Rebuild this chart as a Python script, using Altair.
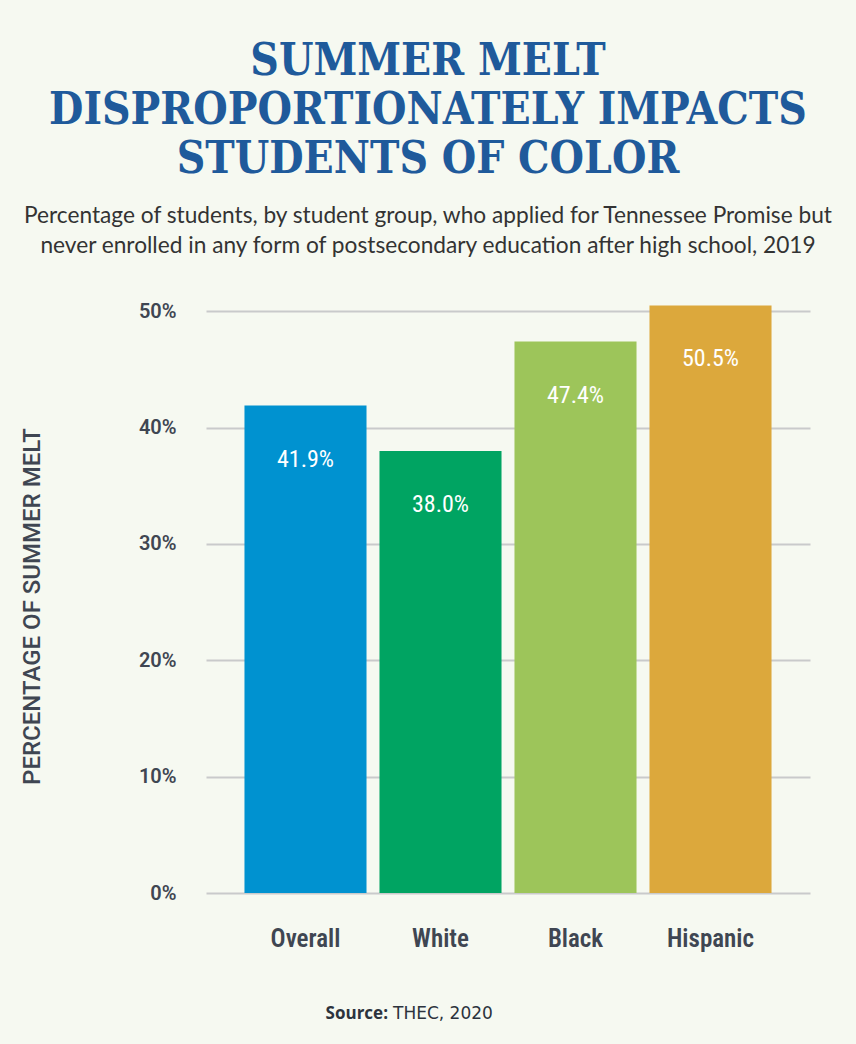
import altair as alt
import pandas as pd

groups = ["Overall", "White", "Black", "Hispanic"]
values = [41.9, 38.0, 47.4, 50.5]
labels = ["41.9%", "38.0%", "47.4%", "50.5%"]
colors = ["#0092d0", "#00a462", "#9dc55a", "#dca83c"]
y_ticks = [0, 10, 20, 30, 40, 50]

df = pd.DataFrame({"group": groups, "value": values, "label": labels})
src = pd.DataFrame({"a": ["Source:"], "b": ["THEC, 2020"]})

x_enc = alt.X("group:N", sort=groups, title=None,
              scale=alt.Scale(paddingInner=0.096, paddingOuter=0.285),
              axis=alt.Axis(labelAngle=0, ticks=False, domain=False, labelPadding=33,
                            labelFont="Roboto Condensed, Roboto", labelFontSize=25, labelFontWeight=600,
                            labelColor="#3f4652"))
y_enc = alt.Y("value:Q", title="PERCENTAGE OF SUMMER MELT",
              scale=alt.Scale(domain=[0, 52], nice=False),
              axis=alt.Axis(values=y_ticks, labelExpr="datum.value + '%'", ticks=False,
                            domain=False, gridColor="#c9cacb", gridWidth=2,
                            labelPadding=30, labelFont="Roboto", labelFontSize=20,
                            labelFontWeight=600, labelColor="#3f4652",
                            titleFont="Roboto", titleFontSize=24, titleFontWeight=500,
                            titleColor="#3f4652", titleX=-174, titleY=318,
                            titleAngle=270, titleBaseline="middle", titleAlign="center"))

bars = alt.Chart(df).mark_bar().encode(
    x=x_enc, y=y_enc,
    color=alt.Color("group:N", sort=groups,
                    scale=alt.Scale(domain=groups, range=colors), legend=None))

text = alt.Chart(df).mark_text(color="white", font="Roboto Condensed, Roboto", fontSize=24,
                               baseline="middle", dy=54).encode(
    x=alt.X("group:N", sort=groups), y="value:Q", text="label:N")

src_a = alt.Chart(src).mark_text(font="Open Sans", fontSize=17, fontWeight="bold",
                                 color="#2c333d", align="right", baseline="middle").encode(
    x=alt.value(182), y=alt.value(726), text="a:N")
src_b = alt.Chart(src).mark_text(font="DejaVu Sans", fontSize=17, color="#2c333d",
                                 align="left", baseline="middle").encode(
    x=alt.value(187), y=alt.value(726), text="b:N")

chart = alt.layer(bars, text, src_a, src_b).properties(
    width=604, height=605,
    autosize=alt.AutoSizeParams(type="none"),
    padding={"left": 206, "top": 288, "right": 46, "bottom": 151},
    background="#f6f9f1",
    title=alt.Title(
        text=["SUMMER MELT", "DISPROPORTIONATELY IMPACTS", "STUDENTS OF COLOR"],
        subtitle=["Percentage of students, by student group, who applied for Tennessee Promise but",
                  "never enrolled in any form of postsecondary education after high school, 2019"],
        anchor="middle", dx=-80, offset=30,
        font="DejaVu Serif Condensed, Liberation Serif", fontSize=44, fontWeight="bold",
        color="#1f5a9b", lineHeight=49,
        subtitleFont="Lato", subtitleFontSize=22.7, subtitleColor="#333333",
        subtitleLineHeight=30, subtitlePadding=23),
).configure_view(stroke=None).configure_title(limit=0)

chart.save("out.html", embed_options={"renderer": "svg", "actions": False})
